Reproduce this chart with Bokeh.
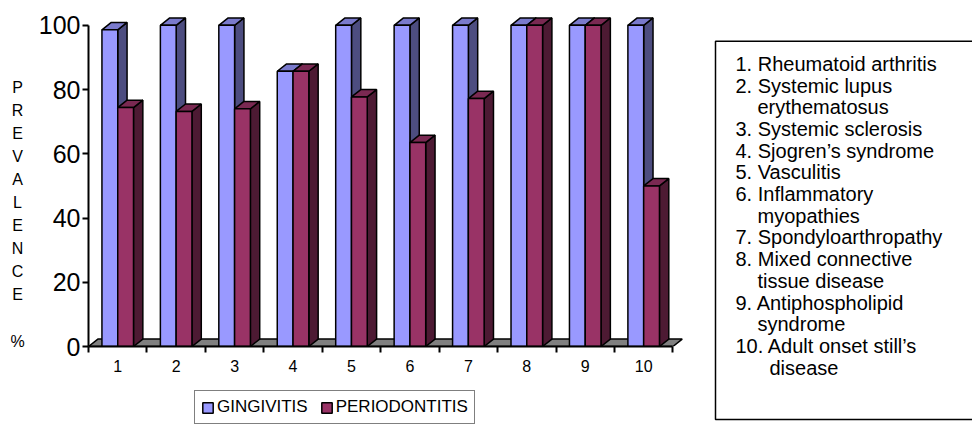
import numpy as np
from bokeh.plotting import figure
from bokeh.layouts import row, column
from bokeh.models import Range1d, FixedTicker, Legend, LegendItem
from bokeh.core.properties import value
from bokeh.embed import file_html
from bokeh.resources import INLINE

# ---------------- data ----------------
categories = [1, 2, 3, 4, 5, 6, 7, 8, 9, 10]
tick_labels = ["1", "2", "3", "4", "5", "6", "7", "8", "9", "10"]
gingivitis = [98.6, 100, 100, 85.7, 100, 100, 100, 100, 100, 100]
periodontitis = [74.4, 73.2, 74.0, 85.7, 77.7, 63.5, 77.2, 100, 100, 50.0]
series_names = ["GINGIVITIS", "PERIODONTITIS"]
y_ticks = [0, 20, 40, 60, 80, 100]
y_title = ["P", "R", "E", "V", "A", "L", "E", "N", "C", "E", "", "%"]
diseases = [
    ["Rheumatoid arthritis"],
    ["Systemic lupus", "erythematosus"],
    ["Systemic sclerosis"],
    ["Sjogren\u2019s syndrome"],
    ["Vasculitis"],
    ["Inflammatory", "myopathies"],
    ["Spondyloarthropathy"],
    ["Mixed connective", "tissue disease"],
    ["Antiphospholipid", "syndrome"],
    ["Adult onset still\u2019s", "disease"],
]

# ---------------- style ----------------
FONT = "Liberation Sans"
GING = {"front": "#9999FF", "top": "#7A7ACC", "side": "#4D4D80"}
PERIO = {"front": "#993366", "top": "#7A2952", "side": "#4D1A33"}
FLOOR = "#808080"
W_BAR = 0.27   # bar width in category units
DX = 0.16      # 3-D depth offset (x, category units)
DY = 2.3       # 3-D depth offset (y, value units)
LW = 1.5


def blank_fig(w, h, xr, yr):
    f = figure(width=w, height=h, x_range=Range1d(*xr), y_range=Range1d(*yr),
               output_backend="svg", toolbar_location=None, min_border=0,
               min_border_left=0, min_border_right=0, min_border_top=0, min_border_bottom=0,
               x_axis_type=None, y_axis_type=None, frame_align=False)
    f.outline_line_color = None
    f.grid.visible = False
    f.background_fill_color = "white"
    f.border_fill_color = "white"
    return f


x = np.array(categories, dtype=float)

p = figure(width=670, height=382, x_range=Range1d(0.5, 10.75), y_range=Range1d(0, 104),
           output_backend="svg", toolbar_location=None, frame_align=False,
           min_border_left=58, min_border_right=13, min_border_top=12, min_border_bottom=36)
p.outline_line_color = None
p.grid.visible = False
p.background_fill_color = "white"
p.border_fill_color = "white"

# floor
fx0, fx1 = x[0] - 0.5, x[-1] + 0.5
p.patch(x=[fx0, fx1, fx1 + DX, fx0 + DX], y=[0, 0, DY, DY],
        fill_color=FLOOR, line_color="black", line_width=LW)


def draw_series(left, right, vals, col):
    side_xs = [[r, r, r + DX, r + DX] for r in right]
    side_ys = [[0, v, v + DY, DY] for v in vals]
    top_xs = [[l, r, r + DX, l + DX] for l, r in zip(left, right)]
    top_ys = [[v, v, v + DY, v + DY] for v in vals]
    p.patches(xs=side_xs, ys=side_ys, fill_color=col["side"], line_color="black", line_width=LW)
    p.patches(xs=top_xs, ys=top_ys, fill_color=col["top"], line_color="black", line_width=LW)
    return p.quad(left=left, right=right, bottom=0, top=vals,
                  fill_color=col["front"], line_color="black", line_width=LW)


draw_series(x - W_BAR, x, gingivitis, GING)
draw_series(x, x + W_BAR, periodontitis, PERIO)

# axes
xa = p.xaxis[0]
xa.ticker = FixedTicker(ticks=categories, minor_ticks=[c - 0.5 for c in categories] + [categories[-1] + 0.5])
xa.major_label_overrides = {c: l for c, l in zip(categories, tick_labels)}
xa.bounds = (fx0, fx1)
xa.major_tick_line_color = None
xa.major_tick_out = 6
xa.major_tick_in = 0
xa.minor_tick_line_color = "black"
xa.minor_tick_line_width = 2
xa.minor_tick_out = 6
xa.minor_tick_in = 0
xa.axis_line_width = 2
xa.axis_line_color = "black"
xa.major_label_text_font = FONT
xa.major_label_text_font_size = "16px"
xa.major_label_text_color = "black"
xa.major_label_standoff = 7

ya = p.yaxis[0]
ya.ticker = FixedTicker(ticks=y_ticks, minor_ticks=[])
ya.bounds = (0, 100)
ya.major_tick_line_color = "black"
ya.major_tick_line_width = 2
ya.major_tick_out = 6
ya.major_tick_in = 0
ya.axis_line_width = 2
ya.axis_line_color = "black"
ya.major_label_text_font = FONT
ya.major_label_text_font_size = "25px"
ya.major_label_text_color = "black"
ya.major_label_standoff = 2

# ---------------- bottom strip: series legend ----------------
bf = blank_fig(670, 42, (0, 670), (42, 0))
# legend swatches (single point placed outside the visible strip)
g_sw = bf.quad(left=[-20], right=[-10], top=[-20], bottom=[-10],
               fill_color=GING["front"], line_color="black", line_width=LW)
p_sw = bf.quad(left=[-20], right=[-10], top=[-20], bottom=[-10],
               fill_color=PERIO["front"], line_color="black", line_width=LW)
legend = Legend(items=[LegendItem(label=series_names[0], renderers=[g_sw]),
                       LegendItem(label=series_names[1], renderers=[p_sw])],
                orientation="horizontal", location=(164, 0))
legend.margin = 0
legend.padding = 6
legend.spacing = 12
legend.glyph_width = 13
legend.glyph_height = 13
legend.label_standoff = 3
legend.label_height = 18
legend.label_text_font = FONT
legend.label_text_font_size = "17px"
legend.label_text_color = "black"
legend.border_line_color = "black"
legend.border_line_width = LW
legend.background_fill_color = "white"
legend.background_fill_alpha = 1
bf.add_layout(legend, "center")

# ---------------- left strip: vertical axis title ----------------
lf = blank_fig(30, 424, (0, 30), (424, 0))
lf.text(x=[17] * len(y_title), y=[86.5 + i * 23.1 for i in range(len(y_title))], text=y_title,
        text_align="center", text_baseline="middle", text_font=value(FONT),
        text_font_size="16px", text_color="black")

# ---------------- right panel: disease key ----------------
rf = blank_fig(272, 424, (0, 272), (424, 0))
rf.quad(left=15, right=290, top=40.7, bottom=419, fill_color=None, line_color="black", line_width=LW)

lx, ly, lt = [], [], []
line = 0
for i, parts in enumerate(diseases, start=1):
    for j, part in enumerate(parts):
        if j == 0:
            lx.append(35)
            lt.append(f"{i}. {part}")
        else:
            lx.append(57 if i < 10 else 69)
            lt.append(part)
        ly.append(63.3 + line * 21.7)
        line += 1
rf.text(x=lx, y=ly, text=lt, text_align="left", text_baseline="middle",
        text_font=value(FONT), text_font_size="20px", text_color="black")

layout = row(lf, column(p, bf, spacing=0), rf, spacing=0)
open("out.html", "w").write(file_html(layout, INLINE))
